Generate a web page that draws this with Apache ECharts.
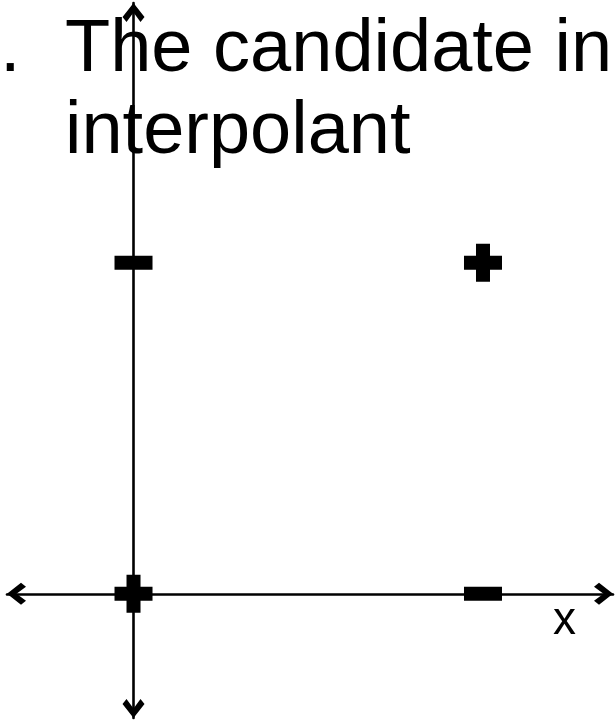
<!DOCTYPE html>
<html>
<head>
<meta charset="utf-8">
<title>The candidate interpolant</title>
<script src="https://cdn.jsdelivr.net/npm/echarts@6/dist/echarts.min.js"></script>
<style>
    html, body { margin: 0; padding: 0; background: #fff; }
    #grafico { width: 615px; height: 722px; }
</style>
</head>
<body>
<div id="grafico"></div>
<script>
// Datos: puntos del problema XOR
const puntosMas = [[1, 1], [0, 0]];
const puntosMenos = [[0, 1], [1, 0]];
const lineasTitulo = ['The candidate in', 'interpolant'];
const nombreEjeX = 'x';

const FUENTE = '"Liberation Sans", Arial, sans-serif';
// flecha abierta (apunta hacia arriba, ECharts la gira)
const FLECHA = 'path://M11,0L22,14L18,19L11,9.5L4,19L0,14Z';
const SIMBOLO_MAS = 'path://M12,0H26V12H38V26H26V38H12V26H0V12H12Z';

function obtenerChart(idContenedor) {
    const chartDom = document.getElementById(idContenedor);
    let myChart = echarts.getInstanceByDom(chartDom);
    if (!myChart) {
        myChart = echarts.init(chartDom, null, {renderer: 'canvas'});
    }
    return myChart;
}

function ejeConFlechas(min, max) {
    return {
        type: 'value',
        min: min,
        max: max,
        axisLine: {
            show: true,
            onZero: true,
            symbol: [FLECHA, FLECHA],
            symbolSize: [22, 19],
            symbolOffset: [9.5, -9.5],
            lineStyle: {color: '#000', width: 2.6}
        },
        axisTick: {show: false},
        axisLabel: {show: false},
        splitLine: {show: false}
    };
}

const myChart = obtenerChart('grafico');

const estiloTexto = {fontFamily: FUENTE, fontSize: 74, fontWeight: 'normal', color: '#000', lineHeight: 82};

const option = {
    animation: false,
    backgroundColor: '#fff',
    title: [
        {
            text: '.',
            left: 0,
            top: 10,
            padding: 0,
            textStyle: estiloTexto
        },
        {
            text: lineasTitulo.join('\n'),
            left: 65,
            top: 10,
            padding: 0,
            textStyle: estiloTexto
        },
        {
            text: nombreEjeX,
            left: 553,
            top: 598,
            padding: 0,
            textStyle: {fontFamily: FUENTE, fontSize: 46, fontWeight: 'normal', color: '#000', lineHeight: 46}
        }
    ],
    grid: {
        left: 7,
        right: 2,
        top: 3,
        bottom: 4,
        outerBoundsMode: 'none'
    },
    xAxis: ejeConFlechas(-0.362, 1.372),
    yAxis: ejeConFlechas(-0.375, 1.785),
    series: [
        {
            name: '+',
            type: 'scatter',
            data: puntosMas,
            symbol: SIMBOLO_MAS,
            symbolSize: 38,
            itemStyle: {color: '#000', opacity: 1},
            emphasis: {disabled: true},
            z: 5
        },
        {
            name: '-',
            type: 'scatter',
            data: puntosMenos,
            symbol: 'rect',
            symbolSize: [38, 14],
            itemStyle: {color: '#000', opacity: 1},
            emphasis: {disabled: true},
            z: 5
        }
    ]
};

myChart.setOption(option);
window.addEventListener('resize', () => myChart.resize());
</script>
</body>
</html>
